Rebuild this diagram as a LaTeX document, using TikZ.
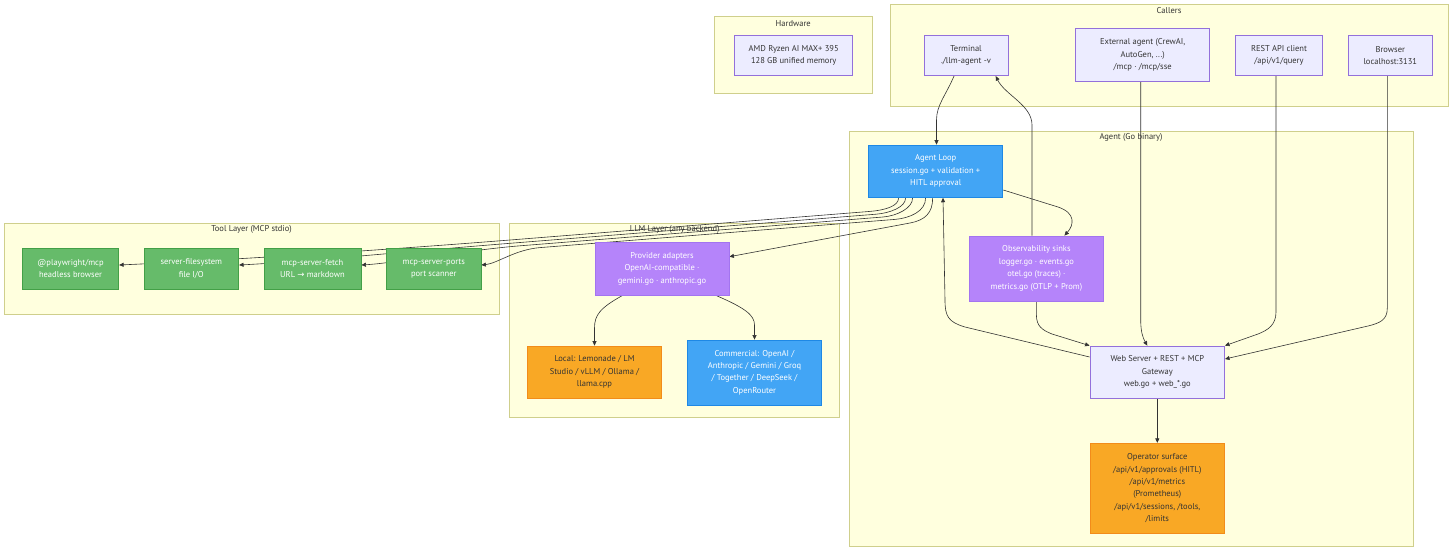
\documentclass[tikz,border=0pt]{standalone}
\usepackage{fontspec}
\setmainfont{PT Sans}
\newfontfamily\symfont{DejaVu Sans}
\usetikzlibrary{arrows.meta}
\definecolor{clfill}{HTML}{FFFFDE}
\definecolor{clline}{HTML}{CFCF8C}
\definecolor{deffill}{HTML}{ECECFF}
\definecolor{defline}{HTML}{9370DB}
\definecolor{bluefill}{HTML}{42A5F5}
\definecolor{blueline}{HTML}{1E88E5}
\definecolor{purfill}{HTML}{B584FA}
\definecolor{purline}{HTML}{A374F0}
\definecolor{grnfill}{HTML}{66BB6A}
\definecolor{grnline}{HTML}{43A047}
\definecolor{orgfill}{HTML}{F9A825}
\definecolor{orgline}{HTML}{F28C1A}
\definecolor{ink}{HTML}{333333}
\begin{document}
\begin{tikzpicture}[x=1pt,y=-1pt,
  cluster/.style={draw=clline, fill=clfill, line width=0.8pt},
  ctitle/.style={font=\fontsize{8.5}{10}\selectfont, text=ink, inner sep=0pt},
  box/.style={rectangle, line width=0.8pt, align=center, inner sep=0pt, font=\fontsize{8.5}{12.4}\selectfont},
  defbox/.style={box, draw=defline, fill=deffill, text=ink},
  bluebox/.style={box, draw=blueline, fill=bluefill, text=white},
  purbox/.style={box, draw=purline, fill=purfill, text=white},
  grnbox/.style={box, draw=grnline, fill=grnfill, text=white},
  orgbox/.style={box, draw=orgline, fill=orgfill, text=ink},
  conn/.style={draw=ink, line width=0.6pt, -{Triangle[length=4.5pt,width=4pt]}},
]
\fill[white] (0,0) rectangle (1456,552);
\useasboundingbox (0,0) rectangle (1456,552);

% clusters
\draw[cluster] (714.5,16.7) rectangle (872,93.3);
\node[ctitle] (thw) at (793.25,23.3) {Hardware};
\draw[cluster] (890.5,4.3) rectangle (1448,106.7);
\node[ctitle] (tcall) at (1169,10.5) {Callers};
\draw[cluster] (849.6,131.7) rectangle (1413,546);
\node[ctitle] (tagent) at (1131,137.7) {Agent (Go binary)};
\draw[cluster] (4,223.3) rectangle (499,314.3);
\node[ctitle] (ttool) at (251.5,229.3) {Tool Layer (MCP stdio)};
\draw[cluster] (509.6,223.3) rectangle (839.8,417.7);
\node[ctitle] (tllm) at (674.7,229.3) {LLM Layer (any backend)};

% node coordinates (placed first so edges can refer to them)
\path
 node[defbox, minimum width=117.7pt, minimum height=40.7pt] (amd) at (793.7,55.3) {}
 node[defbox, minimum width=84pt, minimum height=40.7pt] (term) at (966,55.3) {}
 node[defbox, minimum width=134.2pt, minimum height=53.4pt] (ext) at (1142.7,55) {}
 node[defbox, minimum width=87.2pt, minimum height=40.7pt] (rest) at (1279,55.3) {}
 node[defbox, minimum width=84.7pt, minimum height=40.7pt] (brow) at (1390.3,55.3) {}
 node[bluebox, minimum width=134.3pt, minimum height=52.3pt] (loop) at (935.7,171.2) {}
 node[purbox, minimum width=134.8pt, minimum height=65pt] (obs) at (1036.4,268.5) {}
 node[defbox, minimum width=134.6pt, minimum height=52.3pt] (web) at (1157.3,372.2) {}
 node[orgbox, minimum width=134.6pt, minimum height=90pt] (op) at (1157.3,488.3) {}
 node[purbox, minimum width=134pt, minimum height=52.7pt] (prov) at (662,268.7) {}
 node[orgbox, minimum width=134pt, minimum height=52.3pt] (local) at (594.5,372.2) {}
 node[bluebox, minimum width=134pt, minimum height=65pt] (comm) at (754.5,372.5) {}
 node[grnbox, minimum width=96.4pt, minimum height=40.7pt] (pw) at (70.5,268.7) {}
 node[grnbox, minimum width=94.7pt, minimum height=40.7pt] (fs) at (191.3,268.7) {}
 node[grnbox, minimum width=97pt, minimum height=40.7pt] (fetch) at (312.5,268.7) {}
 node[grnbox, minimum width=94.3pt, minimum height=40.7pt] (ports) at (433.8,268.7) {};

% connectors
\draw[conn] ([xshift=30.4pt]loop.south west) .. controls (899,206) and (885,210.2) .. (870,211.4) -- (510,240) .. controls (350,252.7) and (200,261.4) .. ([yshift=3.7pt]pw.east);
\draw[conn] ([xshift=37.4pt]loop.south west) .. controls (906,207) and (890,213.1) .. (876,214.2) -- (510,243.3) .. controls (420,250.4) and (300,262) .. ([yshift=3.7pt]fs.east);
\draw[conn] ([xshift=44.4pt]loop.south west) .. controls (913,208) and (897,215.9) .. (883,217) -- (520,245.8) .. controls (470,249.8) and (395,263) .. ([yshift=3.7pt]fetch.east);
\draw[conn] ([xshift=57.4pt]loop.south west) .. controls (926,211) and (910,218.2) .. (895,219.4) -- (540,247.6) .. controls (515,249.6) and (497,263.5) .. ([yshift=3.7pt]ports.east);
\draw[conn] ([xshift=64.4pt]loop.south west) .. controls (933,213) and (924.7,220.3) .. (910,223) -- ([yshift=12pt]prov.east);

\draw[conn] ([xshift=-12pt]term.south) .. controls (946,95) and (936.5,105) .. (936.5,120) -- ([xshift=0.8pt]loop.north);
\draw[conn] ([xshift=-4.4pt]obs.north) -- (1032,125) .. controls (1032,105) and (1005,95) .. ([xshift=29.7pt]term.south);
\draw[conn] ([yshift=-18.8pt]loop.east) -- (1058,207) .. controls (1076,213) and (1074,225) .. ([xshift=28pt]obs.north);
\draw[conn] ([yshift=15.2pt]web.west) -- (965,327) .. controls (948,322) and (945,316) .. (945,300) -- ([xshift=7.3pt]loop.south);
\draw[conn] (obs.south) -- (1036.4,315) .. controls (1036.4,326) and (1042,330) .. (1052,334) -- (web.north west);
\draw[conn] ([xshift=-2pt]ext.south) -- (1140.7,320) .. controls (1140.7,332) and (1143,338) .. ([xshift=-10pt]web.north);
\draw[conn] ([xshift=-3pt]rest.south) -- (1276,312) .. controls (1276,325) and (1268,330) .. (1258,334) -- (web.north east);
\draw[conn] ([xshift=-3pt]brow.south) -- (1387.3,308) .. controls (1387.3,320) and (1380,323) .. (1368,326) -- ([yshift=13.2pt]web.east);
\draw[conn] (web.south) -- (op.north);
\draw[conn] ([xshift=-39.5pt]prov.south) .. controls (600,308) and (594.5,315) .. (594.5,328) -- (local.north);
\draw[conn] ([xshift=54pt]prov.south) .. controls (745,308) and (754.5,315) .. (754.5,325) -- (comm.north);

% nodes drawn on top
\node[defbox, minimum width=117.7pt, minimum height=40.7pt] at (amd) {AMD Ryzen AI MAX+ 395\\128 GB unified memory};
\node[defbox, minimum width=84pt, minimum height=40.7pt] at (term) {Terminal\\./llm-agent -v};
\node[defbox, minimum width=134.2pt, minimum height=53.4pt] at (ext) {External agent (CrewAI,\\AutoGen, ...)\\/mcp · /mcp/sse};
\node[defbox, minimum width=87.2pt, minimum height=40.7pt] at (rest) {REST API client\\/api/v1/query};
\node[defbox, minimum width=84.7pt, minimum height=40.7pt] at (brow) {Browser\\localhost:3131};
\node[bluebox, minimum width=134.3pt, minimum height=52.3pt] at (loop) {Agent Loop\\session.go + validation +\\HITL approval};
\node[purbox, minimum width=134.8pt, minimum height=65pt] at (obs) {Observability sinks\\logger.go · events.go\\otel.go (traces) ·\\metrics.go (OTLP + Prom)};
\node[defbox, minimum width=134.6pt, minimum height=52.3pt] at (web) {Web Server + REST + MCP\\Gateway\\web.go + web\_*.go};
\node[orgbox, minimum width=134.6pt, minimum height=90pt] at (op) {Operator surface\\/api/v1/approvals (HITL)\\/api/v1/metrics\\(Prometheus)\\/api/v1/sessions, /tools,\\/limits};
\node[purbox, minimum width=134pt, minimum height=52.7pt] at (prov) {Provider adapters\\OpenAI-compatible ·\\gemini.go · anthropic.go};
\node[orgbox, minimum width=134pt, minimum height=52.3pt] at (local) {Local: Lemonade / LM\\Studio / vLLM / Ollama /\\llama.cpp};
\node[bluebox, minimum width=134pt, minimum height=65pt] at (comm) {Commercial: OpenAI /\\Anthropic / Gemini / Groq\\/ Together / DeepSeek /\\OpenRouter};
\node[grnbox, minimum width=96.4pt, minimum height=40.7pt] at (pw) {@playwright/mcp\\headless browser};
\node[grnbox, minimum width=94.7pt, minimum height=40.7pt] at (fs) {server-filesystem\\file I/O};
\node[grnbox, minimum width=97pt, minimum height=40.7pt] at (fetch) {mcp-server-fetch\\URL {\symfont →} markdown};
\node[grnbox, minimum width=94.3pt, minimum height=40.7pt] at (ports) {mcp-server-ports\\port scanner};
\end{tikzpicture}
\end{document}
